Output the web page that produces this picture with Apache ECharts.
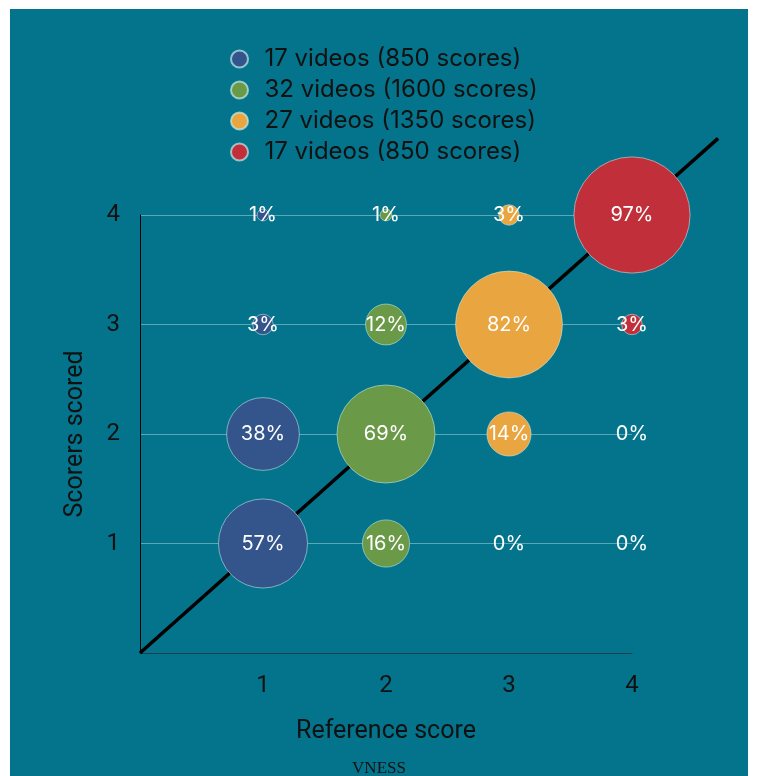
<!DOCTYPE html>
<html>
<head>
	<meta charset="utf-8">
	<title>Reference vs scorers</title>
	<script src="https://cdn.jsdelivr.net/npm/echarts@6/dist/echarts.min.js"></script>
	<style>
		body { margin: 0; background: #fff; }
		#main { width: 758px; height: 776px; }
	</style>
</head>
<body>
<div id="main"></div>
<script>
	// legend names, one per reference score
	var seriesNames = ['17 videos (850 scores)', '32 videos (1600 scores)', '27 videos (1350 scores)', '17 videos (850 scores)'];
	var refScores = [1, 2, 3, 4];
	var scorerLevels = [1, 2, 3, 4];
	// percent of scores at scorer level 1..4, for each reference score
	var pctRef1 = [57, 38, 3, 1];
	var pctRef2 = [16, 69, 12, 1];
	var pctRef3 = [0, 14, 82, 3];
	var pctRef4 = [0, 0, 3, 97];
	var colors = ['#34558b', '#6a9a48', '#e9a53f', '#c1303a'];
	// the diagonal runs a bit past the last tick
	var diagLine = [[0, 0], [4.7, 4.7]];

	var allPct = [pctRef1, pctRef2, pctRef3, pctRef4];

	var myChart = echarts.init(document.getElementById('main'));

	var series = [{
		type: 'custom',
		silent: true,
		clip: false,
		z: 1,
		data: [0],
		renderItem: function (params, api) {
			var a = api.coord(diagLine[0]);
			var b = api.coord(diagLine[1]);
			return {
				type: 'line',
				shape: { x1: a[0], y1: a[1], x2: b[0], y2: b[1] },
				style: { stroke: '#000', lineWidth: 3.5 }
			};
		}
	}];
	for (var i = 0; i < allPct.length; i++) {
		var pts = [];
		for (var j = 0; j < scorerLevels.length; j++) {
			pts.push([refScores[i], scorerLevels[j], allPct[i][j]]);
		}
		series.push({
			name: seriesNames[i] + (i === 3 ? ' ' : ''),
			type: 'scatter',
			data: pts,
			z: 3,
			symbolSize: function (v) { return Math.max(11.8 * Math.sqrt(v[2]), 0.01); },
			itemStyle: { color: colors[i], borderColor: 'rgba(200,235,235,0.7)', borderWidth: 0.8, opacity: 1 },
			label: {
				show: true,
				position: 'inside',
				formatter: function (p) { return p.value[2] + '%'; },
				color: '#fff',
				fontSize: 20,
				fontFamily: 'Inter'
			}
		});
	}

	var option = {
		animation: false,
		graphic: [
			{ type: 'rect', z: -10, shape: { x: 10, y: 9, width: 738, height: 767 }, style: { fill: '#03748c' } },
			{ type: 'text', left: 'center', top: 760, z: 5,
				style: { text: 'VNESS', fill: '#111', font: '17px "Liberation Serif"' } }
		],
		color: colors,
		legend: {
			orient: 'vertical',
			left: 230,
			top: 47,
			padding: 0,
			itemGap: 7,
			itemWidth: 40,
			itemHeight: 17,
			icon: 'circle',
			textStyle: { color: '#111', fontSize: 24, fontFamily: 'Inter' },
			data: [seriesNames[0], seriesNames[1], seriesNames[2], seriesNames[3] + ' ']
		},
		grid: { left: 140, right: 126, top: 215, bottom: 123, containLabel: false },
		xAxis: {
			type: 'value',
			min: 0, max: 4, interval: 1,
			name: 'Reference score',
			nameLocation: 'middle',
			nameGap: 66,
			nameTextStyle: { color: '#111', fontSize: 25, fontFamily: 'Roboto' },
			axisLine: { lineStyle: { color: '#1d3f4a', width: 1 } },
			axisTick: { show: false },
			splitLine: { show: false },
			axisLabel: {
				color: '#111', fontSize: 24, fontFamily: 'Roboto', margin: 21,
				formatter: function (v) { return v === 0 ? '' : v; }
			}
		},
		yAxis: {
			type: 'value',
			min: 0, max: 4, interval: 1,
			name: 'Scorers scored',
			nameLocation: 'middle',
			nameGap: 52,
			nameTextStyle: { color: '#111', fontSize: 25, fontFamily: 'Roboto' },
			axisLine: { show: true, lineStyle: { color: '#000', width: 1 } },
			axisTick: { show: false },
			splitLine: { show: true, lineStyle: { color: 'rgba(200,230,235,0.45)', width: 1 } },
			axisLabel: {
				color: '#111', fontSize: 24, fontFamily: 'Roboto', margin: 20,
				formatter: function (v) { return v === 0 ? '' : v; }
			}
		},
		series: series
	};

	option && myChart.setOption(option);
</script>
</body>
</html>
